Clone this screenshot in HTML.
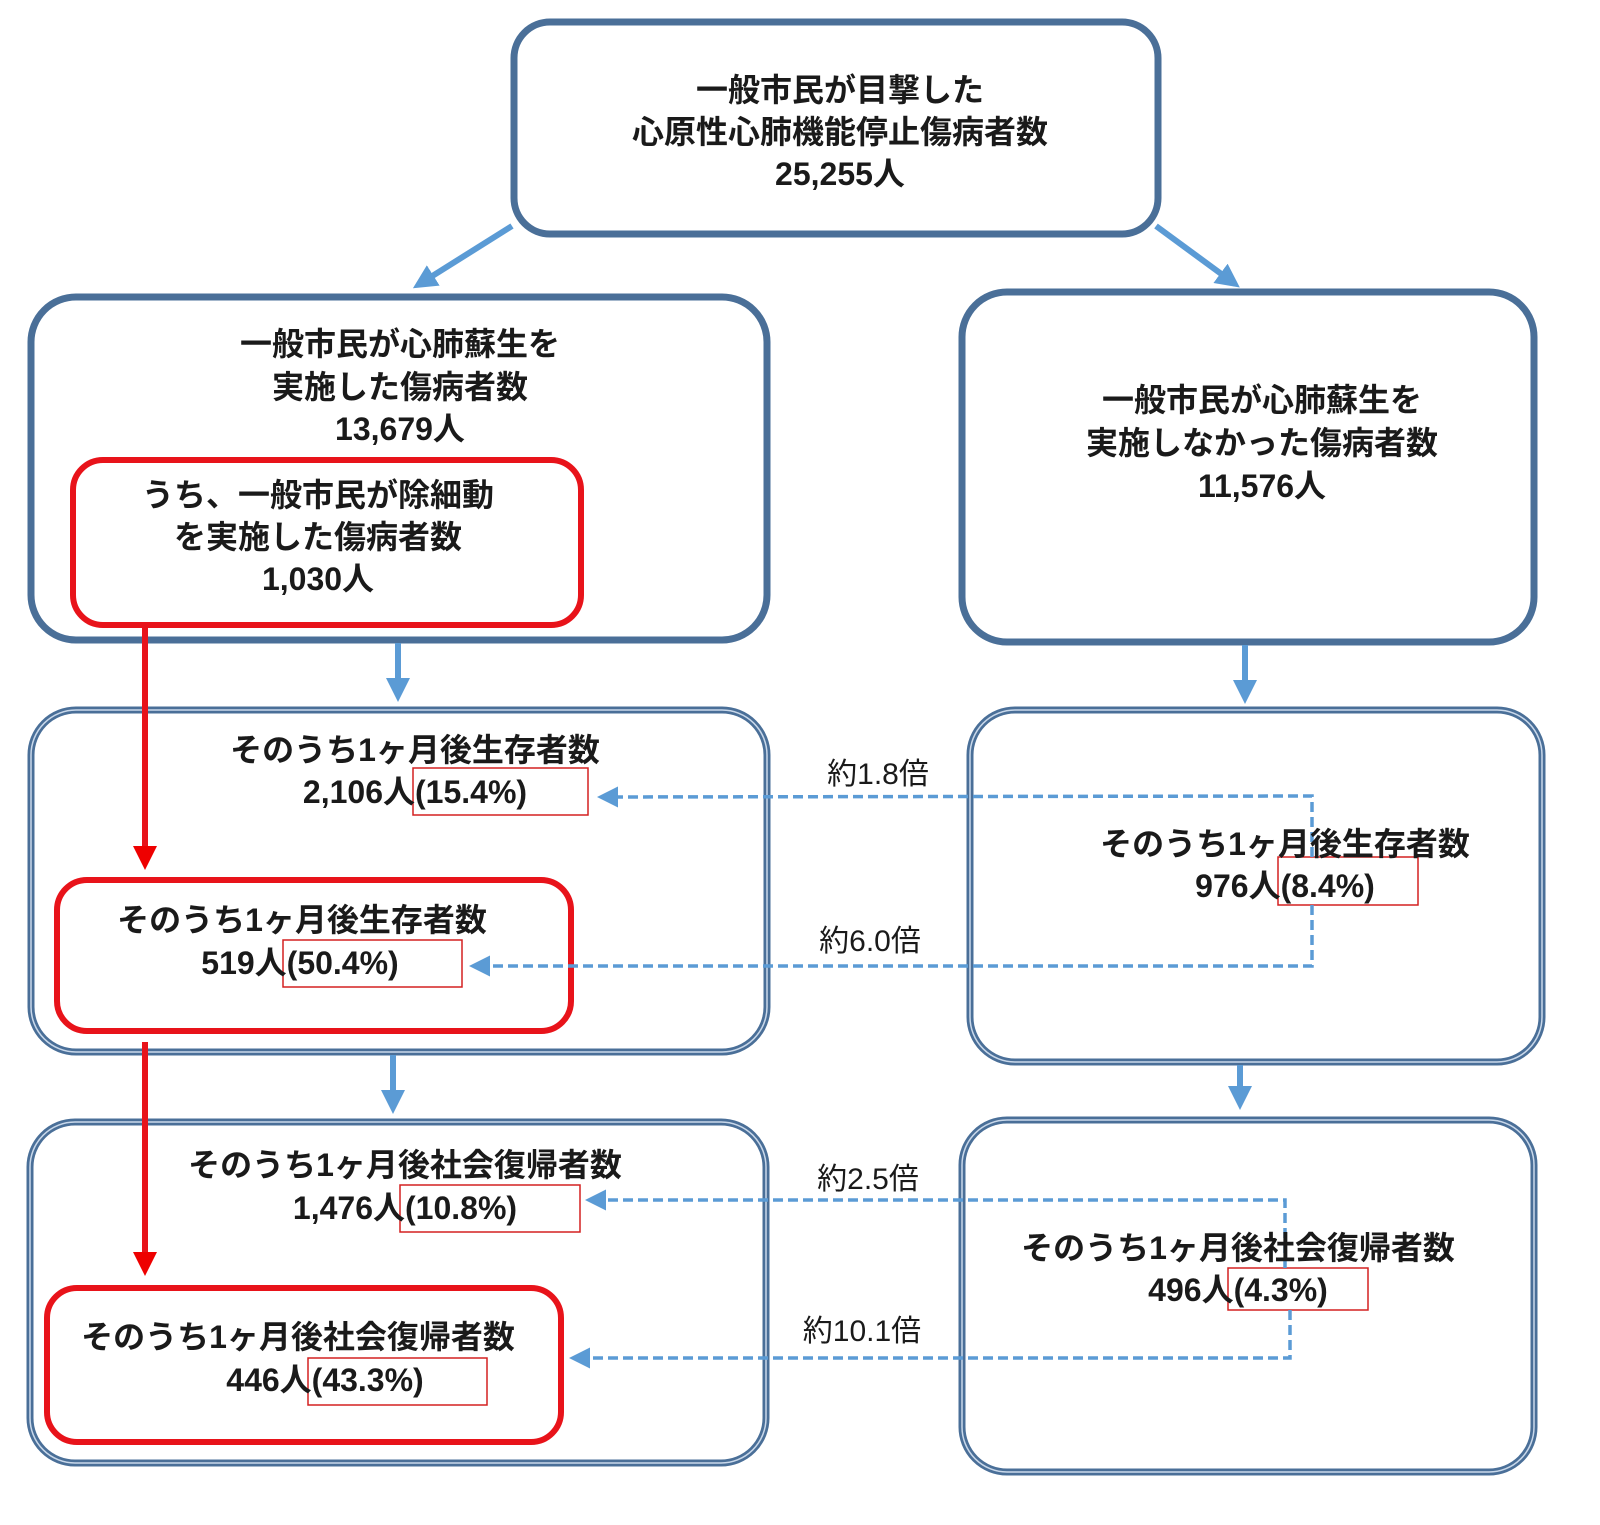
<!DOCTYPE html>
<html><head><meta charset="utf-8"><style>
html,body{margin:0;padding:0;background:#fff}
svg text{font-family:"Liberation Sans","Noto Sans CJK JP",sans-serif;font-size:32px;font-weight:bold;fill:#1a1a1a;text-anchor:middle}
</style></head><body>
<svg width="1600" height="1520" viewBox="0 0 1600 1520" xmlns="http://www.w3.org/2000/svg">
<defs>
<marker id="ab" markerWidth="4" markerHeight="4" refX="3" refY="2" orient="auto" markerUnits="strokeWidth"><path d="M0,0 L4,2 L0,4 Z" fill="#5b9bd5"/></marker>
<marker id="ar" markerWidth="4" markerHeight="4" refX="3" refY="2" orient="auto" markerUnits="strokeWidth"><path d="M0,0 L4,2 L0,4 Z" fill="#e00"/></marker>
<marker id="ad" markerWidth="6" markerHeight="6" refX="4" refY="3" orient="auto" markerUnits="strokeWidth"><path d="M0,0 L6,3 L0,6 Z" fill="#5b9bd5"/></marker>
</defs>
<g fill="none" stroke="#4a6f98" stroke-width="7">
<rect x="514" y="22" width="644" height="212" rx="36"/>
<rect x="31" y="297" width="736" height="343" rx="45"/>
<rect x="962" y="292" width="572" height="350" rx="45"/>
<rect x="31" y="710" width="736" height="342" rx="45"/>
<rect x="970" y="710" width="572" height="352" rx="45"/>
<rect x="30" y="1122" width="736" height="341" rx="45"/>
<rect x="962" y="1120" width="572" height="352" rx="45"/>
</g>
<g fill="none" stroke="#c9d8ea" stroke-width="1.5">
<rect x="31" y="710" width="736" height="342" rx="45"/>
<rect x="970" y="710" width="572" height="352" rx="45"/>
<rect x="30" y="1122" width="736" height="341" rx="45"/>
<rect x="962" y="1120" width="572" height="352" rx="45"/>
</g>
<g fill="none" stroke="#e8131a" stroke-width="6">
<rect x="73" y="460" width="508" height="165" rx="30"/>
<rect x="57" y="880" width="514" height="151" rx="30"/>
<rect x="47" y="1288" width="514" height="154" rx="30"/>
</g>
<g fill="none" stroke="#d42020" stroke-width="1.5">
<rect x="413" y="768" width="175" height="47"/>
<rect x="283" y="940" width="179" height="47"/>
<rect x="1278" y="857" width="140" height="48"/>
<rect x="400" y="1185" width="180" height="47"/>
<rect x="308" y="1358" width="179" height="47"/>
<rect x="1228" y="1268" width="140" height="42"/>
</g>
<g stroke="#5b9bd5" stroke-width="6" fill="none">
<line x1="512" y1="226" x2="418" y2="285" marker-end="url(#ab)"/>
<line x1="1156" y1="226" x2="1235" y2="284" marker-end="url(#ab)"/>
<line x1="398" y1="643" x2="398" y2="696" marker-end="url(#ab)"/>
<line x1="1245" y1="645" x2="1245" y2="698" marker-end="url(#ab)"/>
<line x1="393" y1="1055" x2="393" y2="1108" marker-end="url(#ab)"/>
<line x1="1240" y1="1065" x2="1240" y2="1104" marker-end="url(#ab)"/>
</g>
<g stroke="#e8131a" stroke-width="6" fill="none">
<line x1="145" y1="628" x2="145" y2="864" marker-end="url(#ar)"/>
<line x1="145" y1="1042" x2="145" y2="1270" marker-end="url(#ar)"/>
</g>
<g stroke="#5b9bd5" stroke-width="3.5" fill="none" stroke-dasharray="10,5">
<polyline points="1312,857 1312,796 604,797" marker-end="url(#ad)"/>
<polyline points="1312,905 1312,966 476,966" marker-end="url(#ad)"/>
<polyline points="1285,1268 1285,1200 592,1200" marker-end="url(#ad)"/>
<polyline points="1290,1310 1290,1358 576,1358" marker-end="url(#ad)"/>
</g>
<text x="840" y="101">一般市民が目撃した</text>
<text x="840" y="143">心原性心肺機能停止傷病者数</text>
<text x="840" y="185">25,255人</text>
<text x="400" y="355">一般市民が心肺蘇生を</text>
<text x="400" y="398">実施した傷病者数</text>
<text x="400" y="440">13,679人</text>
<text x="318" y="506">うち、一般市民が除細動</text>
<text x="318" y="548">を実施した傷病者数</text>
<text x="318" y="590">1,030人</text>
<text x="1262" y="411">一般市民が心肺蘇生を</text>
<text x="1262" y="454">実施しなかった傷病者数</text>
<text x="1262" y="497">11,576人</text>
<text x="415" y="761">そのうち1ヶ月後生存者数</text>
<text x="415" y="803">2,106人(15.4%)</text>
<text x="302" y="931">そのうち1ヶ月後生存者数</text>
<text x="300" y="974">519人(50.4%)</text>
<text x="1285" y="855">そのうち1ヶ月後生存者数</text>
<text x="1285" y="897">976人(8.4%)</text>
<text x="405" y="1176">そのうち1ヶ月後社会復帰者数</text>
<text x="405" y="1219">1,476人(10.8%)</text>
<text x="298" y="1348">そのうち1ヶ月後社会復帰者数</text>
<text x="325" y="1391">446人(43.3%)</text>
<text x="1238" y="1259">そのうち1ヶ月後社会復帰者数</text>
<text x="1238" y="1301">496人(4.3%)</text>
<text x="878" y="784" style="font-weight:normal;font-size:30px">約1.8倍</text>
<text x="870" y="951" style="font-weight:normal;font-size:30px">約6.0倍</text>
<text x="868" y="1189" style="font-weight:normal;font-size:30px">約2.5倍</text>
<text x="862" y="1341" style="font-weight:normal;font-size:30px">約10.1倍</text>
</svg>
</body></html>
